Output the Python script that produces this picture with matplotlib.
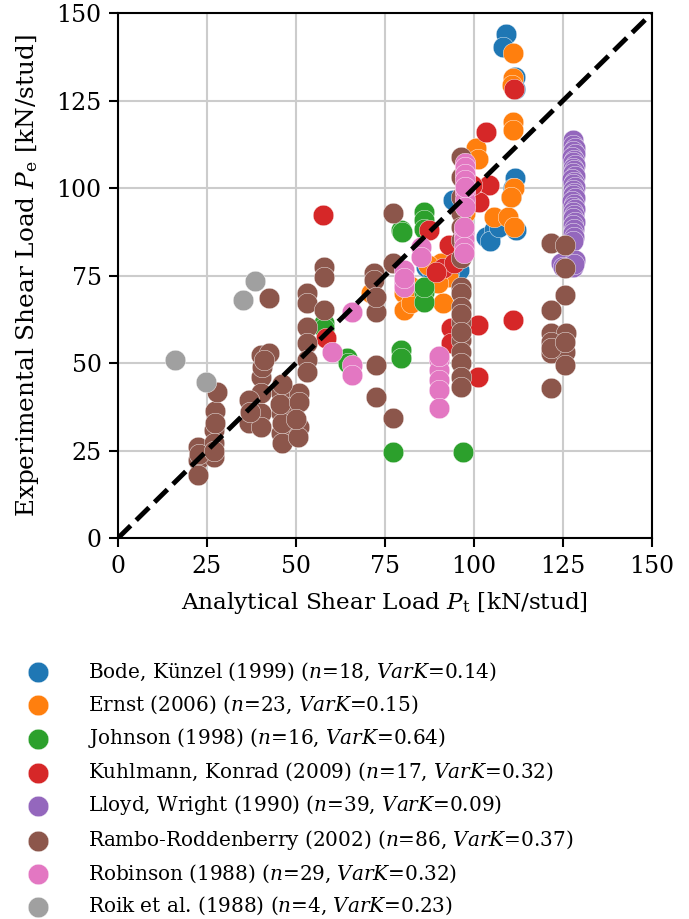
import matplotlib
matplotlib.use("Agg")
import matplotlib.pyplot as plt

plt.rcParams['font.family'] = ['DejaVu Serif']
plt.rcParams['mathtext.fontset'] = 'dejavuserif'

# ---------------- data ----------------
bode_x = [109.1, 108.2, 111.6, 111.5, 111.6, 110.5, 111.8, 103.5, 105.8, 94.1,
          86.6, 95.9, 88.0, 92.0, 104.5, 107.0, 111.0, 93.0]
bode_y = [144.2, 140.5, 131.8, 128.5, 102.9, 97.6, 88.1, 86.2, 88.1, 96.7,
          77.6, 76.7, 77.0, 78.0, 85.0, 89.0, 100.0, 76.0]

ernst_x = [111.0, 111.0, 110.8, 111.0, 111.0, 100.6, 101.3, 111.4, 105.8, 109.6,
           111.4, 90.8, 92.7, 80.5, 80.5, 82.3, 91.3, 71.0, 89.9, 82.0,
           97.5, 110.5, 87.0]
ernst_y = [138.7, 131.4, 129.5, 119.0, 116.7, 111.5, 108.5, 100.0, 91.9, 91.9,
           89.0, 78.6, 74.7, 70.0, 65.2, 67.1, 67.1, 70.0, 72.9, 72.0,
           93.0, 97.5, 78.0]

johnson_x = [77.2, 96.9, 79.5, 79.5, 86.1, 86.1, 86.1, 86.1, 79.5, 86.1,
             57.9, 64.5, 64.8, 86.0, 79.8, 58.0]
johnson_y = [24.7, 24.7, 53.9, 51.5, 70.5, 67.6, 93.3, 90.9, 88.1, 71.9,
             61.4, 51.4, 50.0, 88.5, 87.5, 60.0]

kuhl_x = [57.6, 111.4, 103.5, 111.0, 101.1, 93.6, 93.6, 101.1, 104.4, 101.6,
          87.5, 93.1, 91.3, 94.5, 58.4, 89.5, 99.5]
kuhl_y = [92.3, 128.4, 116.0, 62.4, 60.9, 60.0, 55.7, 46.2, 100.9, 96.2,
          88.1, 83.8, 77.1, 78.6, 57.1, 76.0, 101.0]

lloyd_x = [128.0, 127.8, 128.3, 127.9, 128.4, 127.7, 128.2, 127.9, 128.5, 127.8,
           128.1, 127.9, 128.4, 127.7, 128.2, 128.0, 128.5, 127.8, 128.1, 127.9,
           128.3, 127.7, 128.2, 128.0, 128.4, 127.8, 128.1, 127.9, 128.3, 127.8,
           128.2, 128.0, 128.1, 127.9, 124.6, 127.9, 128.5, 125.0, 128.2]
lloyd_y = [113.8, 112.5, 111.5, 110.6, 109.8, 109.0, 108.2, 107.4, 106.6, 105.8,
           105.1, 104.3, 103.5, 102.7, 101.9, 101.1, 100.3, 99.5, 98.8, 98.0,
           97.2, 96.4, 95.6, 94.8, 94.0, 93.1, 92.3, 91.4, 90.5, 89.5,
           88.4, 87.2, 86.0, 85.0, 78.6, 77.6, 79.5, 77.5, 78.3]

rambo_x = [22.5, 22.5, 22.5, 26.9, 26.9, 26.9, 27.4, 27.9, 40.1, 42.4,
           40.3, 40.1, 36.8, 36.8, 40.1, 40.1, 45.7, 45.7, 45.7, 46.2,
           50.9, 50.9, 50.5, 47.6, 42.4, 53.2, 53.2, 57.9, 53.2, 53.2,
           53.2, 53.2, 57.9, 57.9, 72.0, 72.0, 72.5, 72.5, 72.5, 77.2,
           77.2, 77.2, 96.4, 96.4, 96.4, 96.4, 96.4, 96.4, 96.4, 96.4,
           96.4, 96.4, 96.4, 96.4, 96.4, 96.4, 96.4, 121.8, 125.5, 125.5,
           125.5, 121.8, 121.8, 125.9, 121.8, 125.5, 125.5, 121.8, 121.8, 121.8,
           96.4, 27.4, 46.0, 45.5, 40.5, 37.0, 51.0, 22.7, 50.0, 26.9,
           125.5, 96.4, 96.4, 41.0, 46.0, 72.5]
rambo_y = [26.2, 22.4, 18.1, 30.9, 27.1, 23.3, 36.5, 41.9, 52.4, 52.9,
           46.0, 41.4, 39.5, 32.9, 35.7, 31.9, 41.4, 35.7, 30.0, 27.1,
           41.4, 31.9, 29.0, 37.6, 68.6, 70.0, 67.1, 65.2, 60.5, 55.7,
           50.9, 47.6, 77.6, 74.7, 75.7, 73.8, 64.7, 49.5, 40.5, 34.3,
           92.9, 78.6, 109.0, 103.3, 97.6, 92.9, 89.0, 85.2, 71.9, 70.0,
           66.2, 61.9, 56.7, 53.3, 50.0, 46.2, 43.3, 84.3, 83.8, 77.1,
           69.5, 65.2, 58.6, 58.6, 52.9, 53.3, 49.5, 42.9, 56.0, 54.5,
           80.0, 33.0, 33.0, 38.5, 49.0, 36.0, 39.0, 24.0, 34.0, 25.0,
           56.0, 64.0, 59.0, 51.0, 44.0, 69.0]

robin_x = [97.4, 97.4, 97.4, 97.4, 97.4, 97.4, 97.4, 97.2, 97.2, 97.2,
           97.2, 85.2, 85.2, 80.5, 80.5, 80.5, 90.3, 90.3, 90.3, 90.3,
           90.3, 65.9, 60.3, 65.9, 65.9, 97.4, 80.5, 90.3, 97.2]
robin_y = [107.1, 106.0, 104.0, 102.4, 99.0, 96.7, 94.7, 87.1, 85.5, 83.3,
           81.4, 83.3, 80.5, 76.7, 72.9, 71.9, 50.9, 48.1, 45.2, 42.4,
           37.1, 64.7, 53.3, 49.5, 46.7, 100.5, 74.5, 52.0, 89.0]

roik_x = [16.1, 24.9, 35.3, 38.4]
roik_y = [50.9, 44.7, 68.1, 73.5]

labels = [
    r"Bode, Künzel (1999) ($n$=18, $VarK$=0.14)",
    r"Ernst (2006) ($n$=23, $VarK$=0.15)",
    r"Johnson (1998) ($n$=16, $VarK$=0.64)",
    r"Kuhlmann, Konrad (2009) ($n$=17, $VarK$=0.32)",
    r"Lloyd, Wright (1990) ($n$=39, $VarK$=0.09)",
    r"Rambo-Roddenberry (2002) ($n$=86, $VarK$=0.37)",
    r"Robinson (1988) ($n$=29, $VarK$=0.32)",
    r"Roik et al. (1988) ($n$=4, $VarK$=0.23)",
]
series = [(bode_x, bode_y), (ernst_x, ernst_y), (johnson_x, johnson_y),
          (kuhl_x, kuhl_y), (lloyd_x, lloyd_y), (rambo_x, rambo_y),
          (robin_x, robin_y), (roik_x, roik_y)]
colors = ['#1f77b4', '#ff7f0e', '#2ca02c', '#d62728', '#9467bd',
          '#8c564b', '#e377c2', '#a0a0a0']

ticks = [0, 25, 50, 75, 100, 125, 150]

# ---------------- plot ----------------
fig = plt.figure(figsize=(6.89, 9.19), dpi=100)
ax = fig.add_axes([0.171, 0.4143, 0.775, 0.5712])

for (xs, ys), c, lab in zip(series, colors, labels):
    ax.scatter(xs, ys, s=220, color=c, edgecolor='white', linewidth=0.3,
               label=lab, zorder=3)

ax.plot([0, 150], [0, 150], color='black', linestyle='--', linewidth=3.5,
        zorder=5)

ax.set_xlim(0, 150)
ax.set_ylim(0, 150)
ax.set_xticks(ticks)
ax.set_yticks(ticks)
ax.grid(True, color='#cccccc', linewidth=1.5, zorder=0)
ax.set_axisbelow(True)
for sp in ax.spines.values():
    sp.set_linewidth(1.5)
ax.tick_params(axis='both', labelsize=17, length=6.7, width=1.5, pad=5)
ax.set_xlabel(r"Analytical Shear Load $P_\mathrm{t}$ [kN/stud]", fontsize=16.7,
              labelpad=9)
ax.set_ylabel(r"Experimental Shear Load $P_\mathrm{e}$ [kN/stud]", fontsize=17.8,
              labelpad=11)

fig.legend(loc='upper left', bbox_to_anchor=(0.02, 0.29), frameon=False,
           fontsize=14.4, labelspacing=0.52, handletextpad=1.69,
           borderaxespad=0, handlelength=1.62)

fig.savefig("out.png", dpi=100)
